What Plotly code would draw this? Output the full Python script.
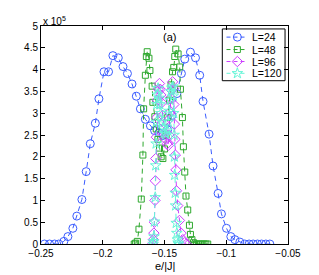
import plotly.graph_objects as go

# ---- data (counts in units of 1e5) ----
x_L24 = [-0.2472, -0.2431, -0.2390, -0.2356, -0.2315, -0.2282, -0.2242, -0.2210, -0.2169, -0.2134,
         -0.2101, -0.2060, -0.2031, -0.1990, -0.1953, -0.1918, -0.1874, -0.1836, -0.1800, -0.1763,
         -0.1728, -0.1695, -0.1655, -0.1614, -0.1580, -0.1545, -0.1512, -0.1475, -0.1440, -0.1400,
         -0.1363, -0.1336, -0.1290, -0.1249, -0.1215, -0.1188, -0.1139, -0.1107, -0.1066, -0.1039,
         -0.0998, -0.0963, -0.0930, -0.0890, -0.0850, -0.0815, -0.0782, -0.0747, -0.0714, -0.0679,
         -0.0647]
y_L24 = [0, 0, 0, 0, 0.06, 0.17, 0.36, 0.64, 1.02, 1.66,
         2.30, 2.77, 3.33, 3.95, 3.95, 4.32, 4.27, 4.07, 3.91, 3.67,
         3.39, 3.10, 2.86, 2.71, 2.60, 2.55, 2.49, 2.62, 2.95, 3.45,
         3.91, 4.24, 4.40, 4.27, 3.87, 3.27, 2.52, 1.79, 1.16, 0.69,
         0.36, 0.17, 0.10, 0.045, 0, 0, 0, 0, 0, 0,
         0]

x_L48 = [-0.1745, -0.1734, -0.1720, -0.1707, -0.1688, -0.1675, -0.1669, -0.1655, -0.1647, -0.1640,
         -0.1626, -0.1618, -0.1600, -0.1594, -0.1578, -0.1567, -0.1553, -0.1540, -0.1527, -0.1513,
         -0.1500, -0.1487, -0.1474, -0.1460, -0.1447, -0.1435, -0.1425, -0.1417, -0.1409, -0.1390,
         -0.1377, -0.1371, -0.1355, -0.1347, -0.1336, -0.1326, -0.1312, -0.1298, -0.1290, -0.1278,
         -0.1265, -0.1255, -0.1240, -0.1225, -0.1210, -0.1195, -0.1180, -0.1165, -0.1150]
y_L48 = [0, 0.02, 0.06, 0.34, 1.03, 2.04, 3.10, 3.87, 4.30, 4.41,
         4.26, 3.98, 3.62, 3.25, 2.92, 2.64, 2.40, 2.20, 2.00, 1.96,
         2.18, 2.50, 2.90, 3.30, 3.65, 3.95, 4.05, 4.30, 4.47, 4.36,
         4.06, 3.55, 2.90, 2.23, 1.65, 1.10, 0.78, 0.43, 0.22, 0.10,
         0.03, 0, 0, 0, 0, 0, 0, 0, 0]

x_L96 = [-0.1596, -0.1590, -0.1586, -0.1582, -0.1577, -0.1574, -0.1571, -0.1566, -0.1562, -0.1558,
         -0.1550, -0.1541, -0.1535, -0.1530, -0.1523, -0.1515, -0.1508, -0.1498, -0.1488, -0.1478,
         -0.1470, -0.1466, -0.1458, -0.1450, -0.1444, -0.1434, -0.1428, -0.1424, -0.1420, -0.1416,
         -0.1412, -0.1407, -0.1403, -0.1393, -0.1379, -0.1366, -0.1352, -0.1339, -0.1322]
y_L96 = [0, 0.10, 0.25, 0.50, 1.00, 1.45, 1.96, 2.45, 2.90, 3.30,
         3.55, 3.68, 3.55, 3.42, 3.24, 2.95, 2.79, 2.55, 2.40, 2.30,
         2.26, 2.50, 3.01, 3.35, 3.53, 3.72, 3.57, 3.20, 2.75, 2.40,
         2.04, 1.70, 1.22, 0.88, 0.54, 0.25, 0.10, 0.03, 0]

x_L120 = [-0.1592, -0.1588, -0.1585, -0.1582, -0.1575, -0.1571, -0.1568, -0.1565, -0.1562, -0.1558,
          -0.1552, -0.1545, -0.1538, -0.1530, -0.1520, -0.1510, -0.1500, -0.1490, -0.1480, -0.1470,
          -0.1462, -0.1455, -0.1448, -0.1440, -0.1433, -0.1428, -0.1425, -0.1422, -0.1420, -0.1418,
          -0.1413, -0.1410, -0.1405, -0.1400, -0.1395, -0.1390, -0.1385]
y_L120 = [0, 0.06, 0.17, 0.51, 1.07, 1.80, 2.30, 2.80, 3.20, 3.42,
          3.57, 3.35, 3.20, 3.00, 2.80, 2.65, 2.55, 2.52, 2.60, 2.80,
          3.05, 3.30, 3.50, 3.58, 3.61, 3.40, 3.00, 2.50, 2.00, 1.58,
          1.17, 0.88, 0.48, 0.25, 0.10, 0.03, 0]

series_names = ["L=24", "L=48", "L=96", "L=120"]
x_ticks = [-0.25, -0.2, -0.15, -0.1, -0.05]
x_tick_labels = ["\u22120.25", "\u22120.2", "\u22120.15", "\u22120.1", "\u22120.05"]
y_ticks = [0, 0.5, 1, 1.5, 2, 2.5, 3, 3.5, 4, 4.5, 5]
y_tick_labels = ["0", "0.5", "1", "1.5", "2", "2.5", "3", "3.5", "4", "4.5", "5"]

FONT = "Liberation Sans, Arial, sans-serif"
colors = ["#3a5cff", "#2ea82e", "#cc3cff", "#66f5d8"]
symbols = ["circle-open", "square-open", "diamond-open", "star-open"]
sizes = [8, 6, 8, 8]
DASH = "5px,4px"

fig = go.Figure()
for name, xs, ys, col, sym, sz in zip(series_names, [x_L24, x_L48, x_L96, x_L120],
                                      [y_L24, y_L48, y_L96, y_L120], colors, symbols, sizes):
    fig.add_trace(go.Scatter(
        x=xs, y=ys, name=name, mode="lines+markers", showlegend=False,
        line=dict(color=col, width=1, dash=DASH),
        marker=dict(symbol=sym, size=sz, color=col, line=dict(color=col, width=1)),
    ))

# ---- compact MATLAB-style legend drawn on an overlay axis spanning the plot area (0..1) ----
leg_rows = [0.949, 0.892, 0.837, 0.783]
leg_x0, leg_x1, leg_xm, leg_tx = 0.751, 0.835, 0.795, 0.846
for name, col, sym, sz, ry in zip(series_names, colors, symbols, sizes, leg_rows):
    fig.add_trace(go.Scatter(
        x=[leg_x0, leg_xm, leg_x1], y=[ry, ry, ry], xaxis="x2", yaxis="y2",
        mode="lines", showlegend=False, hoverinfo="skip",
        line=dict(color=col, width=1, dash="4px,3px"),
    ))
    fig.add_trace(go.Scatter(
        x=[leg_xm], y=[ry], xaxis="x2", yaxis="y2", mode="markers",
        showlegend=False, hoverinfo="skip",
        marker=dict(symbol=sym, size=sz, color=col, line=dict(color=col, width=1)),
    ))
    fig.add_annotation(text=name, xref="x2", yref="y2", x=leg_tx, y=ry,
                       xanchor="left", yanchor="middle", showarrow=False,
                       font=dict(family=FONT, size=10.5, color="black"))
fig.add_shape(type="rect", xref="paper", yref="paper", x0=0.734, x1=0.988, y0=0.749, y1=0.9865,
              line=dict(color="black", width=1), fillcolor="rgba(0,0,0,0)")

axis_common = dict(
    showgrid=False, zeroline=False, showline=True, linecolor="black", linewidth=1,
    mirror="ticks", ticks="inside", ticklen=4, tickcolor="black",
    tickfont=dict(family=FONT, size=10, color="black"),
)
fig.update_xaxes(range=[-0.25, -0.05], tickvals=x_ticks, ticktext=x_tick_labels, **axis_common)
fig.update_yaxes(range=[0, 5], tickvals=y_ticks, ticktext=y_tick_labels, **axis_common)
fig.update_layout(
    xaxis2=dict(overlaying="x", range=[0, 1], visible=False, fixedrange=True),
    yaxis2=dict(overlaying="y", range=[0, 1], visible=False, fixedrange=True),
)

fig.add_annotation(text="e/|J|", xref="paper", yref="paper", x=0.5, y=0, yshift=-22,
                   xanchor="center", yanchor="middle", showarrow=False,
                   font=dict(family=FONT, size=11, color="black"))
fig.add_annotation(text="x 10<sup>5</sup>", xref="paper", yref="paper", x=0.0, y=1.0,
                   xanchor="left", yanchor="bottom", yshift=-3, showarrow=False,
                   font=dict(family=FONT, size=10, color="black"))
fig.add_annotation(text="(a)", xref="x", yref="paper", x=-0.146, y=0.95,
                   xanchor="center", yanchor="middle", showarrow=False,
                   font=dict(family=FONT, size=11, color="black"))

# page body has an 8px default margin, so the figure is offset by 8px; compensate
fig.update_layout(
    width=311, height=267,
    margin=dict(l=33, r=31, t=13, b=31),
    paper_bgcolor="white", plot_bgcolor="white",
    showlegend=False,
)

fig.write_html("out.html")
